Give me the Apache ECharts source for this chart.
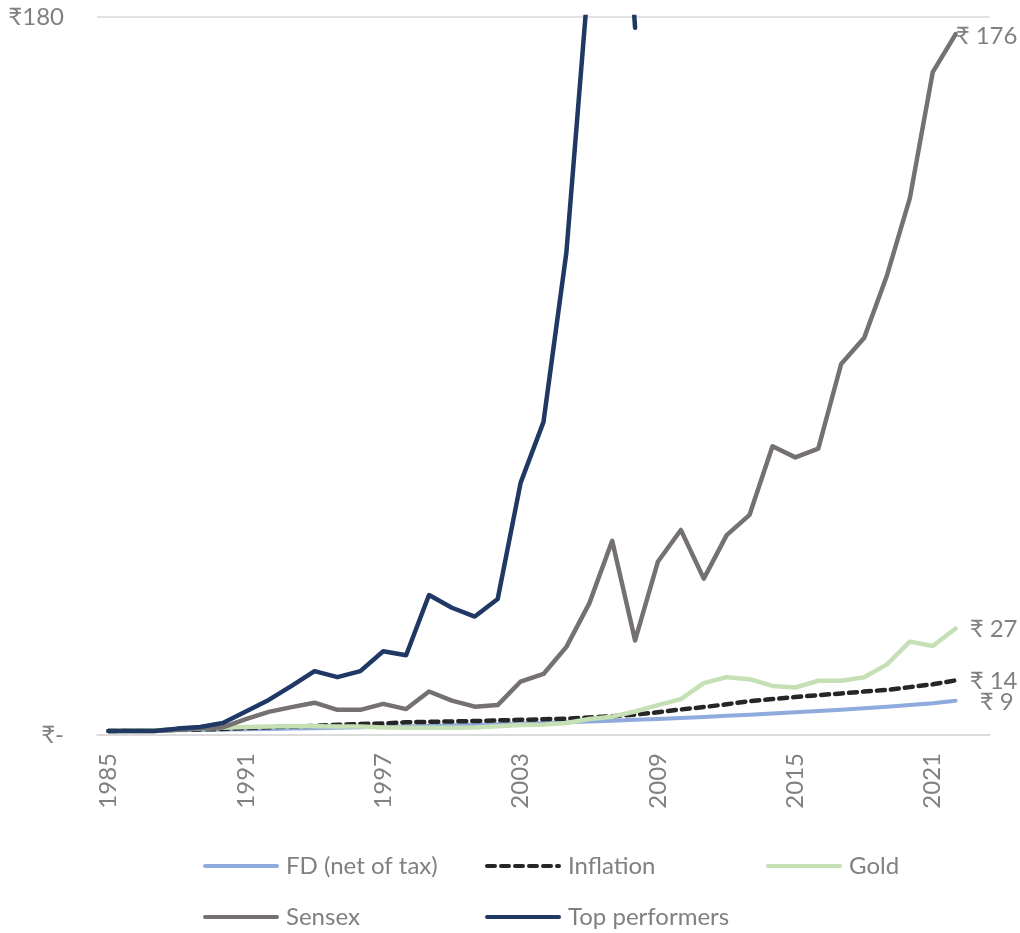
<!DOCTYPE html>
<html>
<head>
<meta charset="utf-8">
<script src="https://cdn.jsdelivr.net/npm/echarts@6/dist/echarts.min.js"></script>
<style>
html,body{margin:0;padding:0;background:#fff;}
#chart{width:1020px;height:933px;}
</style>
</head>
<body>
<div id="chart"></div>
<script>
// Years (2023 is an empty trailing slot on the category axis)
const years = ['1985','1986','1987','1988','1989','1990','1991','1992','1993','1994','1995','1996','1997','1998','1999','2000','2001','2002','2003','2004','2005','2006','2007','2008','2009','2010','2011','2012','2013','2014','2015','2016','2017','2018','2019','2020','2021','2022','2023'];

const fdNetOfTax = [1.0,1.06,1.13,1.2,1.27,1.35,1.43,1.52,1.6,1.7,1.8,1.92,2.04,2.16,2.29,2.43,2.57,2.72,2.88,3.03,3.2,3.38,3.58,3.8,4.03,4.27,4.52,4.8,5.08,5.38,5.7,6.02,6.35,6.7,7.08,7.5,7.95,8.6];
const inflation = [1.0,1.09,1.18,1.3,1.4,1.5,1.7,1.95,2.1,2.3,2.55,2.75,2.9,3.2,3.3,3.4,3.5,3.65,3.8,3.95,4.1,4.4,4.7,5.1,5.7,6.4,7.0,7.7,8.5,9.0,9.5,10.0,10.4,10.9,11.3,12.0,12.7,13.7];
const gold = [1.0,1.1,1.2,1.4,1.6,1.8,2.0,2.1,2.2,2.2,2.1,2.1,1.9,1.8,1.8,1.8,1.9,2.2,2.5,2.6,3.0,4.0,4.6,5.9,7.5,9.0,13.0,14.5,14.0,12.3,11.9,13.6,13.6,14.5,17.7,23.4,22.3,26.7];
const sensex = [1.0,1.0,1.0,1.3,1.7,1.9,4.0,5.8,7.0,8.1,6.3,6.3,7.8,6.5,10.9,8.6,7.1,7.5,13.4,15.3,22.1,33.0,48.7,23.7,43.5,51.4,39.2,50.1,55.2,72.4,69.6,71.8,93.0,99.5,115.2,134.6,166.2,175.7];
const topPerformers = [1.0,1.0,1.0,1.6,2.0,3.0,5.9,8.8,12.3,16.0,14.5,16.0,21.0,20.0,35.1,31.9,29.7,34.1,63.2,78.5,121.0,192.0,260.0,177.3];

const yTicks = [0, 180];

const seriesNames = ['FD (net of tax)','Inflation','Gold','Sensex','Top performers'];
const seriesColors = ['#8faadc','#262626','#c5e0b4','#767171','#203864'];

const FONT = 'Lato, "Noto Sans", "DejaVu Sans", sans-serif';
const GREY = '#808080';
const FS = 24;

const chart = echarts.init(document.getElementById('chart'), null, {renderer:'canvas'});

function endLbl(distance, offset){
  return {
    show: true,
    formatter: p => '₹ ' + Math.round(p.value),
    color: GREY, fontFamily: FONT, fontSize: FS,
    distance: distance, offset: offset
  };
}

const legendPos = [
  {left: 198, top: 849},
  {left: 480, top: 849},
  {left: 761, top: 849},
  {left: 198, top: 900},
  {left: 480, top: 900}
];

const option = {
  animation: false,
  backgroundColor: '#ffffff',
  grid: {left: 97, right: 30, top: 17, bottom: 198, containLabel: false},
  legend: seriesNames.map((n, i) => ({
    data: [n],
    left: legendPos[i].left,
    top: legendPos[i].top,
    itemWidth: 72,
    itemHeight: 14,
    itemStyle: {opacity: 0},
    lineStyle: {width: 4},
    textStyle: {color: GREY, fontFamily: FONT, fontSize: FS, padding: [0,0,0,4]}
  })),
  xAxis: {
    type: 'category',
    data: years,
    boundaryGap: true,
    axisLine: {show: true, lineStyle: {color: '#d9d9d9', width: 1.5}},
    axisTick: {show: false},
    axisLabel: {interval: 5, rotate: 90, margin: 18, color: GREY, fontFamily: FONT, fontSize: FS}
  },
  yAxis: {
    type: 'value',
    min: yTicks[0],
    max: yTicks[1],
    interval: yTicks[1] - yTicks[0],
    axisLine: {show: false},
    axisTick: {show: false},
    splitLine: {show: true, lineStyle: {color: '#d9d9d9', width: 1.5}},
    axisLabel: {
      margin: 33, color: GREY, fontFamily: FONT, fontSize: FS,
      formatter: v => v === 0 ? '₹-' : '₹' + v
    }
  },
  series: [
    {name: seriesNames[0], type: 'line', data: fdNetOfTax, symbol: 'none', showSymbol: false,
     lineStyle: {color: seriesColors[0], width: 4, join: 'round', cap: 'round'}, itemStyle: {color: seriesColors[0]},
     endLabel: endLbl(24, [0, 2])},
    {name: seriesNames[1], type: 'line', data: inflation, symbol: 'none', showSymbol: false,
     lineStyle: {color: seriesColors[1], width: 4.5, type: [8, 6], join: 'round', cap: 'round'}, itemStyle: {color: seriesColors[1]},
     endLabel: endLbl(14, [0, 1])},
    {name: seriesNames[2], type: 'line', data: gold, symbol: 'none', showSymbol: false,
     lineStyle: {color: seriesColors[2], width: 4.5, join: 'round', cap: 'round'}, itemStyle: {color: seriesColors[2]},
     endLabel: endLbl(14, [0, 1])},
    {name: seriesNames[3], type: 'line', data: sensex, symbol: 'none', showSymbol: false,
     lineStyle: {color: seriesColors[3], width: 4.5, join: 'round', cap: 'round'}, itemStyle: {color: seriesColors[3]},
     endLabel: endLbl(0, [0, 2])},
    {name: seriesNames[4], type: 'line', data: topPerformers, symbol: 'none', showSymbol: false, clip: true,
     lineStyle: {color: seriesColors[4], width: 4.5, join: 'round', cap: 'round'}, itemStyle: {color: seriesColors[4]}}
  ]
};

chart.setOption(option);
</script>
</body>
</html>
